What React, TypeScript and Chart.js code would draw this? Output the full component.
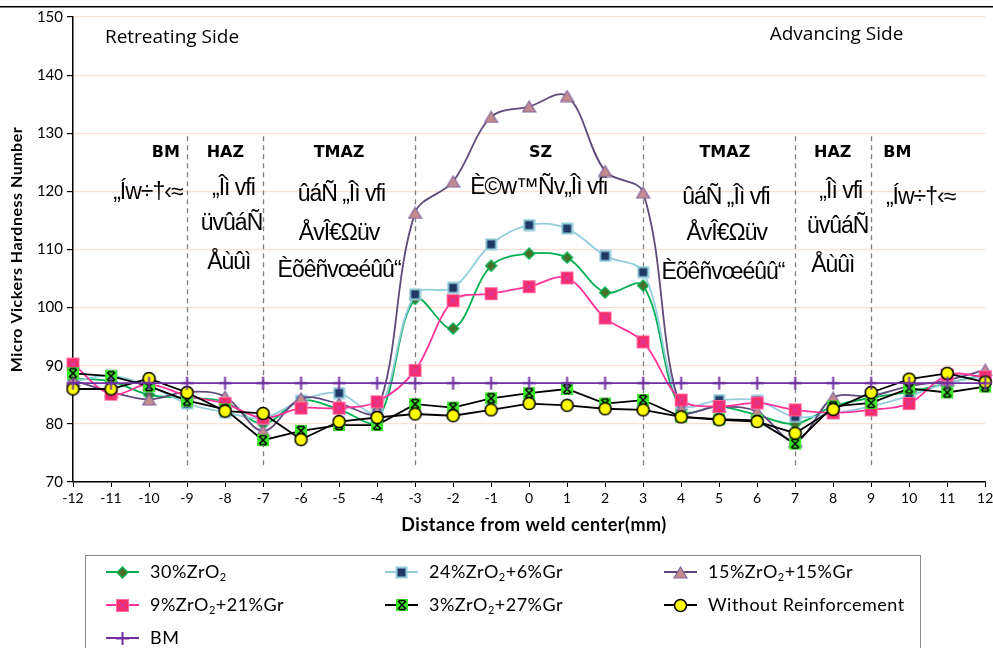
import React, { useEffect, useRef } from "react";
import { Chart, registerables } from "chart.js";

Chart.register(...registerables);

// ---------------- data ----------------
const distances = [-12, -11, -10, -9, -8, -7, -6, -5, -4, -3, -2, -1, 0, 1, 2, 3, 4, 5, 6, 7, 8, 9, 10, 11, 12];

const zro2_30 = [87.8, 87.3, 85.0, 84.5, 83.8, 80.0, 84.0, 82.5, 80.5, 101.5, 96.4, 107.2, 109.3, 108.6, 102.6, 103.8, 82.5, 83.0, 81.5, 80.0, 83.0, 84.5, 85.5, 87.0, 88.5];
const zro2_24_gr6 = [87.3, 88.3, 86.5, 83.5, 82.0, 81.0, 84.0, 85.3, 82.0, 102.3, 103.4, 110.9, 114.2, 113.6, 108.9, 106.1, 83.5, 84.1, 84.0, 81.2, 81.8, 83.0, 84.8, 87.0, 88.2];
const zro2_15_gr15 = [87.5, 85.5, 84.2, 85.5, 84.7, 78.8, 84.4, 83.5, 82.2, 116.3, 121.7, 132.8, 134.6, 136.4, 123.5, 119.8, 82.5, 83.0, 82.1, 77.0, 84.5, 84.8, 86.5, 87.5, 89.3];
const zro2_9_gr21 = [90.3, 85.1, 86.8, 84.8, 83.5, 81.0, 82.7, 82.7, 83.8, 89.2, 101.2, 102.4, 103.6, 105.1, 98.2, 94.1, 84.1, 83.0, 83.6, 82.4, 81.9, 82.4, 83.5, 88.4, 88.1];
const zro2_3_gr27 = [88.7, 88.2, 86.5, 84.0, 82.5, 77.2, 78.8, 79.8, 79.8, 83.4, 82.8, 84.4, 85.3, 86.0, 83.5, 84.1, 81.2, 80.8, 80.6, 76.6, 83.0, 83.6, 86.1, 85.4, 86.4];
const withoutReinforcement = [86.0, 86.0, 87.8, 85.4, 82.2, 81.8, 77.3, 80.4, 81.1, 81.7, 81.4, 82.4, 83.5, 83.2, 82.6, 82.4, 81.2, 80.7, 80.4, 78.4, 82.5, 85.4, 87.7, 88.7, 87.2];
const baseMetal = [87, 87, 87, 87, 87, 87, 87, 87, 87, 87, 87, 87, 87, 87, 87, 87, 87, 87, 87, 87, 87, 87, 87, 87, 87];

const seriesLabels = ["30%ZrO₂", "24%ZrO₂+6%Gr", "15%ZrO₂+15%Gr", "9%ZrO₂+21%Gr", "3%ZrO₂+27%Gr", "Without Reinforcement", "BM"];

const xMin = -12;
const xMax = 12;
const yMin = 70;
const yMax = 150;
const yStep = 10;

const zoneDividers = [-9, -7, -3, 3, 7, 9];
const dividerTop = 129.5;
const dividerBottom = 72.8;

// zone annotation texts (positions in data units)
const zoneTitles = [
  { text: "BM", x: -9.56, y: 126.6 },
  { text: "HAZ", x: -7.99, y: 126.6 },
  { text: "TMAZ", x: -5.0, y: 126.6 },
  { text: "SZ", x: 0.3, y: 126.6 },
  { text: "TMAZ", x: 5.15, y: 126.6 },
  { text: "HAZ", x: 7.99, y: 126.6 },
  { text: "BM", x: 9.69, y: 126.6 },
];
const zoneNotes = [
  { text: "„Íw÷†‹≈", x: -10.03, y: 119.7 },
  { text: "„Îì vfi", x: -7.78, y: 120.4 },
  { text: "üvûáÑ", x: -7.83, y: 114.4 },
  { text: "Åùûì", x: -7.9, y: 107.8 },
  { text: "ûáÑ „Îì vfi", x: -4.94, y: 119.4 },
  { text: "ÅvÎ€Ωüv", x: -5.0, y: 112.8 },
  { text: "Èõêñvœéûû“", x: -5.0, y: 106.3 },
  { text: "È©w™Ñv„Îì vfi", x: 0.25, y: 120.6 },
  { text: "ûáÑ „Îì vfi", x: 5.18, y: 119.0 },
  { text: "ÅvÎ€Ωüv", x: 5.2, y: 112.8 },
  { text: "Èõêñvœéûû“", x: 5.1, y: 106.1 },
  { text: "„Îì vfi", x: 8.2, y: 119.9 },
  { text: "üvûáÑ", x: 8.12, y: 113.9 },
  { text: "Åùûì", x: 7.99, y: 107.2 },
  { text: "„Íw÷†‹≈", x: 10.3, y: 119.0 },
];
const sideLabels = [
  { text: "Retreating Side", x: -11.16, y: 146.4 },
  { text: "Advancing Side", x: 6.33, y: 146.9 },
];

const xTitle = "Distance from weld center(mm)";
const yTitle = "Micro Vickers Hardness Number";

// ---------------- markers ----------------
function mk(w: number, h: number, draw: (c: CanvasRenderingContext2D) => void) {
  const cv = document.createElement("canvas");
  cv.width = w;
  cv.height = h;
  const c = cv.getContext("2d")!;
  draw(c);
  return cv;
}

function makeMarkers() {
  const diamond = mk(13, 13, (c) => {
    c.beginPath();
    c.moveTo(6.5, 1);
    c.lineTo(12, 6.5);
    c.lineTo(6.5, 12);
    c.lineTo(1, 6.5);
    c.closePath();
    c.fillStyle = "#4a6f2a";
    c.fill();
    c.strokeStyle = "#00b050";
    c.lineWidth = 1.3;
    c.stroke();
  });
  const navy = mk(13, 13, (c) => {
    c.fillStyle = "#1f3864";
    c.fillRect(1.5, 1.5, 10, 10);
    c.strokeStyle = "#93cddd";
    c.lineWidth = 2;
    c.strokeRect(1.5, 1.5, 10, 10);
  });
  const tri = mk(15, 13, (c) => {
    c.beginPath();
    c.moveTo(7.5, 1);
    c.lineTo(14, 12);
    c.lineTo(1, 12);
    c.closePath();
    c.fillStyle = "#c48c8e";
    c.fill();
    c.strokeStyle = "#8064a2";
    c.lineWidth = 1.2;
    c.stroke();
  });
  const pink = mk(15, 15, (c) => {
    c.fillStyle = "#ff2a62";
    c.fillRect(1, 1, 13, 13);
    c.strokeStyle = "#ff6aa8";
    c.lineWidth = 1;
    c.strokeRect(1.5, 1.5, 12, 12);
    c.strokeStyle = "#d63aa0";
    c.lineWidth = 1.6;
    c.beginPath();
    c.moveTo(3, 3);
    c.lineTo(12, 12);
    c.moveTo(12, 3);
    c.lineTo(3, 12);
    c.stroke();
  });
  const greenX = mk(14, 14, (c) => {
    c.fillStyle = "#3ce82a";
    c.fillRect(1, 1, 12, 12);
    c.strokeStyle = "#000";
    c.lineWidth = 1.6;
    c.beginPath();
    c.moveTo(3, 3);
    c.lineTo(11, 11);
    c.moveTo(11, 3);
    c.lineTo(3, 11);
    c.moveTo(4, 2.5);
    c.lineTo(10, 2.5);
    c.moveTo(4, 11.5);
    c.lineTo(10, 11.5);
    c.stroke();
  });
  const yellow = mk(15, 15, (c) => {
    c.beginPath();
    c.arc(7.5, 7.5, 6, 0, Math.PI * 2);
    c.fillStyle = "#ffff00";
    c.fill();
    c.strokeStyle = "#000";
    c.lineWidth = 1.6;
    c.stroke();
  });
  const plus = mk(15, 15, (c) => {
    c.strokeStyle = "#7030a0";
    c.lineWidth = 2;
    c.beginPath();
    c.moveTo(7.5, 1);
    c.lineTo(7.5, 14);
    c.moveTo(1, 7.5);
    c.lineTo(14, 7.5);
    c.stroke();
  });
  return [diamond, navy, tri, pink, greenX, yellow, plus];
}

const LABEL_FONT = "Lato, 'Open Sans', sans-serif";

function drawRich(ctx: CanvasRenderingContext2D, text: string, x: number, y: number, size: number, family: string, weight = "normal") {
  const parts = text.split("₂");
  let cx = x;
  ctx.textBaseline = "middle";
  ctx.textAlign = "left";
  parts.forEach((p, i) => {
    ctx.font = `${weight} ${size}px ${family}`;
    ctx.fillText(p, cx, y);
    cx += ctx.measureText(p).width;
    if (i < parts.length - 1) {
      const s = Math.round(size * 0.62);
      ctx.font = `${weight} ${s}px ${family}`;
      ctx.fillText("2", cx, y + size * 0.28);
      cx += ctx.measureText("2").width;
    }
  });
}

export default function App() {
  const ref = useRef<HTMLCanvasElement>(null);

  useEffect(() => {
    document.body.style.margin = "0";
    const canvas = ref.current!;
    const markers = makeMarkers();
    const seriesData = [zro2_30, zro2_24_gr6, zro2_15_gr15, zro2_9_gr21, zro2_3_gr27, withoutReinforcement, baseMetal];
    const lineColors = ["#00b050", "#93cddd", "#604a7b", "#ff3399", "#000000", "#000000", "#7030a0"];
    const tensions = [0.35, 0.35, 0.35, 0.35, 0, 0, 0];

    const datasets = seriesData.map((vals, i) => ({
      label: seriesLabels[i],
      data: vals.map((v, k) => ({ x: distances[k], y: v })),
      borderColor: lineColors[i],
      backgroundColor: lineColors[i],
      borderWidth: 1.8,
      tension: tensions[i],
      pointStyle: markers[i] as any,
      pointRadius: 6,
      order: 10 - i,
      fill: false,
      clip: false as any,
    }));

    const overlay = {
      id: "overlay",
      beforeDatasetsDraw(chart: any) {
        const { ctx, scales } = chart;
        const xs = scales.x;
        const ys = scales.y;
        ctx.save();
        ctx.strokeStyle = "#808080";
        ctx.lineWidth = 1.3;
        ctx.setLineDash([5, 4]);
        for (const d of zoneDividers) {
          const px = Math.round(xs.getPixelForValue(d)) + 0.5;
          ctx.beginPath();
          ctx.moveTo(px, ys.getPixelForValue(dividerTop));
          ctx.lineTo(px, ys.getPixelForValue(dividerBottom));
          ctx.stroke();
        }
        ctx.setLineDash([]);
        ctx.fillStyle = "#000";
        ctx.textAlign = "center";
        ctx.textBaseline = "middle";
        ctx.font = "bold 16px 'DejaVu Sans', sans-serif";
        for (const t of zoneTitles) {
          ctx.fillText(t.text, xs.getPixelForValue(t.x), ys.getPixelForValue(t.y));
        }
        ctx.font = "23px 'Liberation Sans', Arial, sans-serif";
        (ctx as any).letterSpacing = "-1px";
        for (const t of zoneNotes) {
          ctx.fillText(t.text, xs.getPixelForValue(t.x), ys.getPixelForValue(t.y));
        }
        (ctx as any).letterSpacing = "0px";
        ctx.textAlign = "left";
        ctx.font = "19px 'Open Sans', sans-serif";
        for (const t of sideLabels) {
          ctx.fillText(t.text, xs.getPixelForValue(t.x), ys.getPixelForValue(t.y));
        }
        ctx.restore();
      },
      afterDraw(chart: any) {
        const { ctx, chartArea } = chart;
        ctx.save();
        // outer frame line at top
        ctx.fillStyle = "#000";
        ctx.fillRect(0, 6, 993, 1.5);
        // axis titles
        ctx.textAlign = "center";
        ctx.textBaseline = "middle";
        (ctx as any).letterSpacing = "0.5px";
        ctx.font = `bold 18px ${LABEL_FONT}`;
        ctx.fillText(xTitle, 534, 525);
        ctx.save();
        ctx.translate(17, (chartArea.top + chartArea.bottom) / 2);
        ctx.rotate(-Math.PI / 2);
        ctx.font = `bold 16px ${LABEL_FONT}`;
        ctx.fillText(yTitle, 0, 0);
        ctx.restore();
        // legend
        ctx.strokeStyle = "#8c8c8c";
        ctx.lineWidth = 1;
        ctx.strokeRect(85.5, 555.5, 835, 130);
        const colX = [106, 385, 664];
        const rowY = [572, 605, 638];
        seriesLabels.forEach((lab, i) => {
          const lx = colX[i % 3];
          const ly = rowY[Math.floor(i / 3)];
          ctx.strokeStyle = lineColors[i];
          ctx.lineWidth = 2;
          ctx.beginPath();
          ctx.moveTo(lx, ly);
          ctx.lineTo(lx + 33, ly);
          ctx.stroke();
          const m = markers[i];
          ctx.drawImage(m, Math.round(lx + 16.5 - m.width / 2), Math.round(ly - m.height / 2));
          ctx.fillStyle = "#000";
          drawRich(ctx, lab, lx + 44, ly, 18, LABEL_FONT);
        });
        ctx.restore();
      },
    };

    const chart = new Chart(canvas, {
      type: "line",
      data: { datasets: datasets as any },
      options: {
        responsive: false,
        animation: false,
        events: [],
        layout: { padding: { top: 17, right: 5, left: 0, bottom: 0 } },
        plugins: { legend: { display: false }, tooltip: { enabled: false } },
        scales: {
          x: {
            type: "linear",
            min: xMin,
            max: xMax,
            ticks: {
              stepSize: 1,
              autoSkip: false,
              maxRotation: 0,
              color: "#000",
              padding: 3,
              font: { family: LABEL_FONT, size: 14 },
            },
            grid: { drawOnChartArea: false, tickLength: 5, tickColor: "#000", tickWidth: 1 },
            border: { color: "#000", width: 1.5 },
            afterFit: (s: any) => {
              s.height = 166;
              s.paddingLeft = 0;
              s.paddingRight = 0;
            },
          },
          y: {
            min: yMin,
            max: yMax,
            ticks: {
              stepSize: yStep,
              color: "#000",
              padding: 4,
              font: { family: LABEL_FONT, size: 15 },
            },
            grid: { color: "#fbe0d2", tickColor: "#000", tickLength: 6, lineWidth: 1.2 },
            border: { color: "#000", width: 1.5 },
            afterFit: (s: any) => {
              s.width = 73;
              s.paddingTop = 0;
              s.paddingBottom = 0;
            },
          },
        },
      },
      plugins: [overlay],
    });
    return () => chart.destroy();
  }, []);

  return <canvas ref={ref} width={993} height={648} style={{ display: "block", width: 993, height: 648 }} />;
}
